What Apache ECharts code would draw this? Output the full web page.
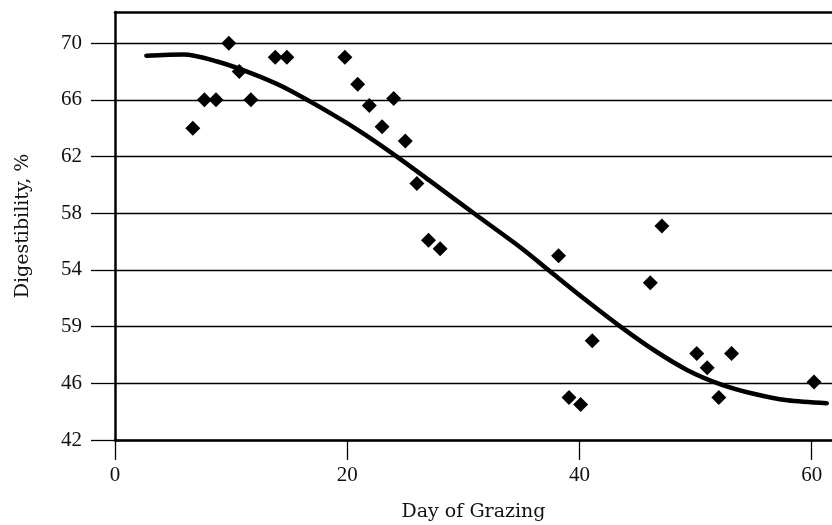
<!DOCTYPE html>
<html>
<head>
<meta charset="utf-8">
<script src="https://cdn.jsdelivr.net/npm/echarts@6/dist/echarts.min.js"></script>
<style>
html,body{margin:0;padding:0;background:#fff;}
#chart{width:832px;height:525px;}
</style>
</head>
<body>
<div id="chart"></div>
<script>
// Observed points
const days = [6.7, 7.7, 8.7, 9.8, 10.7, 11.7, 13.8, 14.8, 19.8, 20.9, 21.9, 23.0, 24.0, 25.0, 26.0, 27.0, 28.0, 38.2, 39.1, 40.1, 41.1, 46.1, 47.1, 50.1, 51.0, 52.0, 53.1, 60.2];
const digestibility = [64.0, 66.0, 66.0, 70.0, 68.0, 66.0, 69.0, 69.0, 69.0, 67.1, 65.6, 64.1, 66.1, 63.1, 60.1, 56.1, 55.5, 55.0, 45.0, 44.5, 49.0, 53.1, 57.1, 48.1, 47.1, 45.0, 48.1, 46.1];

// Fitted curve
const curveDays = [2.7, 5.9, 8.8, 11.6, 14.5, 18.8, 21.4, 24.3, 27.1, 31.4, 34.9, 37.8, 40.6, 43.5, 46.4, 49.3, 52.1, 55.0, 57.9, 61.3];
const curveValues = [69.12, 69.2, 68.71, 67.92, 66.9, 64.94, 63.62, 61.98, 60.3, 57.7, 55.6, 53.68, 51.84, 50.02, 48.35, 46.93, 45.95, 45.26, 44.8, 44.6];

// Axis ticks
const xTickValues = [0, 20, 40, 60];
const xTickLabels = ['0', '20', '40', '60'];
const yTickValues = [42, 46, 50, 54, 58, 62, 66, 70];
const yTickLabels = ['42', '46', '59', '54', '58', '62', '66', '70'];

const scatterData = days.map((d, i) => [d, digestibility[i]]);
const curveData = curveDays.map((d, i) => [d, curveValues[i]]);

const tickFont = {fontFamily: 'Liberation Serif', fontSize: 21, color: '#111'};
const nameFont = {fontFamily: 'DejaVu Serif', fontSize: 19, color: '#111'};

const chart = echarts.init(document.getElementById('chart'), null, {renderer: 'canvas'});
chart.setOption({
  animation: false,
  backgroundColor: '#fff',
  grid: {left: 115, right: 0, top: 12, bottom: 85, containLabel: false, outerBoundsMode: 'none'},
  xAxis: [{
    type: 'value', min: 0, max: 61.75,
    name: 'Day of Grazing', nameLocation: 'middle', nameGap: 63,
    nameTextStyle: nameFont,
    axisLine: {onZero: false, lineStyle: {color: '#000', width: 2.7}},
    axisTick: {show: true, customValues: xTickValues, length: 20, lineStyle: {color: '#000', width: 1.3}},
    axisLabel: Object.assign({customValues: xTickValues, margin: 25,
      formatter: v => xTickLabels[xTickValues.indexOf(v)]}, tickFont),
    splitLine: {show: false}
  }, {
    type: 'value', position: 'top', min: 0, max: 61.75,
    axisLine: {show: true, onZero: false, lineStyle: {color: '#000', width: 2.5}},
    axisTick: {show: false}, axisLabel: {show: false}, splitLine: {show: false}
  }],
  yAxis: {
    type: 'value', min: 42, max: 72.2, interval: 4,
    name: 'Digestibility, %', nameLocation: 'middle', nameGap: 82, nameRotate: 90,
    nameTextStyle: nameFont,
    axisLine: {show: true, onZero: false, lineStyle: {color: '#000', width: 2.5}},
    axisTick: {show: true, customValues: yTickValues, length: 24, lineStyle: {color: '#000', width: 1.3}},
    axisLabel: Object.assign({customValues: yTickValues, margin: 33,
      formatter: v => yTickLabels[yTickValues.indexOf(v)]}, tickFont),
    splitLine: {show: true, lineStyle: {color: '#000', width: 1.3}}
  },
  series: [{
    type: 'line', xAxisIndex: 0, data: curveData, smooth: 0.3, showSymbol: false,
    lineStyle: {color: '#000', width: 4.5, cap: 'round'}, z: 2
  }, {
    type: 'scatter', xAxisIndex: 0, data: scatterData, symbol: 'diamond', symbolSize: 15,
    itemStyle: {color: '#000', opacity: 1}, z: 3
  }]
});
</script>
</body>
</html>
